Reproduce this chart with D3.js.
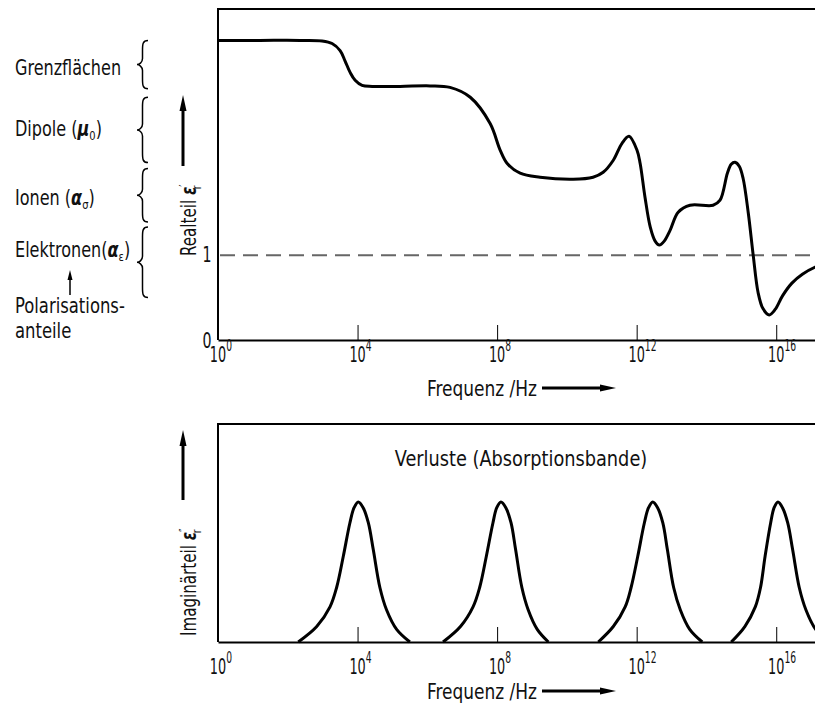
<!DOCTYPE html>
<html lang="de">
<head>
  <meta charset="UTF-8">
  <title>Dielektrische Funktion</title>
  <style>
    body { margin: 0; background: #fff; }
    svg { display: block; font-family: "DejaVu Sans Condensed", "DejaVu Sans", sans-serif; }
    .frame { stroke: #000; stroke-width: 2px; fill: none; }
    .curve { fill: none; stroke: #000; stroke-width: 3px; stroke-linejoin: round; }
    .lbl { font-size: 21px; fill: #111; }
    .brace { fill: none; stroke: #000; stroke-width: 1.5px; }
  </style>
</head>
<body>
  <svg id="chart" width="815" height="704"></svg>
  <script src="https://cdn.jsdelivr.net/npm/d3@7"></script>
  <script>
    // x ticks: exponents of 10 (Hz)
    const tickExponents = [0, 4, 8, 12, 16];

    const realPart = [
      [0, 3.53], [1.2, 3.53], [2.35, 3.53], [2.98, 3.524], [3.27, 3.494], [3.5, 3.41],
      [3.64, 3.29], [3.79, 3.15], [3.93, 3.06], [4.13, 3.0], [4.42, 2.988], [5.22, 2.988],
      [6.08, 2.994], [6.65, 2.976], [7.23, 2.86], [7.8, 2.55], [8.09, 2.235], [8.29, 2.08],
      [8.66, 1.965], [9.23, 1.918], [10.18, 1.894], [10.75, 1.918], [11.04, 1.976],
      [11.33, 2.118], [11.58, 2.318], [11.78, 2.4], [12.01, 2.235], [12.1, 2.08],
      [12.24, 1.68], [12.39, 1.33], [12.53, 1.165], [12.65, 1.118], [12.79, 1.165],
      [12.96, 1.294], [13.19, 1.506], [13.53, 1.588], [14.19, 1.588], [14.39, 1.647],
      [14.6, 1.965], [14.71, 2.071], [14.82, 2.094], [14.94, 2.047], [15.05, 1.906],
      [15.2, 1.494], [15.34, 1.0], [15.48, 0.56], [15.62, 0.37], [15.8, 0.296],
      [15.97, 0.36], [16.18, 0.52], [16.45, 0.67], [16.75, 0.775], [17.12, 0.859], [17.7, 0.94]
    ];

    // imaginary part eps''_r, one absorption band per mechanism
    const peakNear4 = [
      [2.3, 0], [2.83, 0.071], [3.21, 0.161], [3.4, 0.25], [3.59, 0.392], [3.78, 0.546],
      [3.9, 0.616], [4.02, 0.642], [4.16, 0.616], [4.31, 0.546], [4.45, 0.424],
      [4.64, 0.25], [4.83, 0.148], [5.12, 0.058], [5.5, 0]
    ];
    const peakNear8 = [
      [6.45, 0], [6.95, 0.071], [7.31, 0.161], [7.5, 0.25], [7.69, 0.392], [7.88, 0.546],
      [7.99, 0.616], [8.11, 0.642], [8.25, 0.616], [8.4, 0.546], [8.53, 0.424],
      [8.71, 0.25], [8.89, 0.148], [9.15, 0.058], [9.47, 0]
    ];
    const peakNear12 = [
      [10.9, 0], [11.33, 0.071], [11.67, 0.161], [11.84, 0.25], [12.03, 0.392], [12.22, 0.546],
      [12.34, 0.616], [12.46, 0.642], [12.6, 0.616], [12.75, 0.546], [12.88, 0.424],
      [13.06, 0.25], [13.25, 0.148], [13.52, 0.058], [13.88, 0]
    ];
    const peakNear16 = [
      [14.71, 0], [15.1, 0.071], [15.4, 0.161], [15.55, 0.25], [15.68, 0.392], [15.84, 0.546],
      [15.94, 0.616], [16.05, 0.642], [16.18, 0.616], [16.33, 0.546], [16.47, 0.424],
      [16.66, 0.25], [16.85, 0.148], [17.13, 0.058], [17.5, 0]
    ];

    // polarisation contributions: label and eps' range covered by its brace
    const anteile = ["Grenzflächen", "Dipole", "Ionen", "Elektronen"];
    const anteilBereiche = [[3.53, 2.96], [2.86, 2.09], [2.02, 1.39], [1.33, 0.5]];

    const svg = d3.select("#chart");
    const left = 218, right = 846;

    const x = d3.scaleLog().domain([1, 1e18]).range([left, right]);
    const yTop = d3.scaleLinear().domain([0, 3.9]).range([340, 9]);
    const yBot = d3.scaleLinear().domain([0, 1]).range([642, 424]);

    const lineTop = d3.line()
      .x(d => x(Math.pow(10, d[0])))
      .y(d => yTop(d[1]))
      .curve(d3.curveCatmullRom.alpha(0.5));
    const lineBot = d3.line()
      .x(d => x(Math.pow(10, d[0])))
      .y(d => yBot(d[1]))
      .curve(d3.curveCatmullRom.alpha(0.5));

    // narrow lettering: squeeze DejaVu horizontally
    function label(parent, px, py, sx, rot) {
      const g = parent.append("g")
        .attr("transform", `translate(${px},${py})${rot ? ` rotate(${rot})` : ""} scale(${sx},1)`);
      return g.append("text").attr("class", "lbl");
    }

    // straight arrow with a slim filled head
    function arrow(x1, y1, x2, y2, w, headLen, headW) {
      const len = Math.hypot(x2 - x1, y2 - y1);
      const g = svg.append("g")
        .attr("transform", `translate(${x1},${y1}) rotate(${Math.atan2(y2 - y1, x2 - x1) * 180 / Math.PI})`);
      g.append("line").attr("x1", 0).attr("x2", len - headLen + 1).attr("y1", 0).attr("y2", 0)
        .attr("stroke", "#000").attr("stroke-width", w);
      g.append("path")
        .attr("d", `M${len},0L${len - headLen},${-headW / 2}L${len - headLen},${headW / 2}Z`)
        .attr("fill", "#000");
    }

    function panel(y, yTopPx, labelBaseline) {
      const g = svg.append("g");
      g.append("g")
        .attr("transform", `translate(0,${y.range()[0]})`)
        .call(d3.axisBottom(x)
          .tickValues(tickExponents.slice(1).map(e => Math.pow(10, e)))
          .tickSize(-15).tickSizeOuter(0).tickFormat(""))
        .call(a => a.select(".domain").attr("stroke-width", 2))
        .call(a => a.selectAll(".tick line").attr("stroke-width", 1));
      g.append("path").attr("class", "frame")
        .attr("d", `M${left},${y.range()[0]}V${yTopPx}H${right}`);
      tickExponents.forEach(e => {
        const t = label(g, x(Math.pow(10, e)), labelBaseline, 0.68).attr("x", -12);
        t.append("tspan").text("10");
        t.append("tspan").attr("dy", -11).attr("font-size", 15).text(e);
      });
      return g;
    }

    // ---- upper panel: real part
    const gTop = panel(yTop, 9, 362);
    gTop.append("line")
      .attr("x1", left + 2).attr("x2", right)
      .attr("y1", yTop(1)).attr("y2", yTop(1))
      .attr("stroke", "#666").attr("stroke-width", 2)
      .attr("stroke-dasharray", "15,8");
    gTop.append("path").datum(realPart).attr("class", "curve").attr("d", lineTop);
    [0, 1].forEach(v => {
      label(gTop, 207, yTop(v) + (v === 0 ? 8 : 7), 0.75)
        .attr("text-anchor", "middle").text(v);
    });

    // ---- lower panel: imaginary part
    const gBot = panel(yBot, 424, 674);
    [peakNear4, peakNear8, peakNear12, peakNear16].forEach(p => {
      gBot.append("path").datum(p).attr("class", "curve").attr("d", lineBot);
    });
    label(gBot, 521, 466, 0.94).attr("text-anchor", "middle")
      .text("Verluste (Absorptionsbande)");

    // ---- axis titles
    function freqLabel(yBase) {
      label(svg, 427, yBase, 0.9).text("Frequenz /Hz");
      arrow(542, yBase - 8, 616, yBase - 8, 3, 16, 7);
    }
    freqLabel(396);
    freqLabel(699);

    function yTitle(yStart, word, primes, arrowFrom, arrowTo) {
      const t = label(svg, 196, yStart, 0.8, -90);
      t.append("tspan").text(word + " ");
      t.append("tspan").attr("font-style", "italic").attr("font-weight", "bold").text("ε");
      t.append("tspan").attr("font-size", 13).attr("dy", -8).text(primes);
      t.append("tspan").attr("font-size", 13).attr("dx", -6).attr("dy", 13).text("r");
      arrow(183, arrowFrom, 183, arrowTo, 3, 16, 7);
    }
    yTitle(256, "Realteil", "′", 166, 95);
    yTitle(636, "Imaginärteil", "″", 500, 430);

    // ---- left annotations: polarisation contributions with braces
    const bx = 137, bw = 11;
    anteilBereiche.forEach(r => {
      const y0 = yTop(r[0]), y1 = yTop(r[1]), ym = (y0 + y1) / 2;
      const c = bw / 2;
      svg.append("path").attr("class", "brace")
        .attr("d", `M${bx + bw},${y0} C${bx + c},${y0} ${bx + c},${y0 + 4} ${bx + c},${y0 + 10}
                    V${ym - 6} C${bx + c},${ym - 2} ${bx + 2},${ym} ${bx},${ym}
                    C${bx + 2},${ym} ${bx + c},${ym + 2} ${bx + c},${ym + 6}
                    V${y1 - 10} C${bx + c},${y1 - 4} ${bx + c},${y1} ${bx + bw},${y1}`);
    });

    const labelBaselines = [75, 136, 205, 257];
    const subs = [null, ["μ", "0"], ["α", "σ"], ["α", "ε"]];
    anteile.forEach((name, i) => {
      const t = label(svg, 15, labelBaselines[i], 0.85);
      t.append("tspan").text(name + (subs[i] ? (i === 3 ? "(" : " (") : ""));
      if (subs[i]) {
        t.append("tspan").attr("font-style", "italic").attr("font-weight", "bold").text(subs[i][0]);
        t.append("tspan").attr("font-size", 13).attr("dy", 4).text(subs[i][1]);
        t.append("tspan").attr("dy", -4).text(")");
      }
    });
    arrow(70, 295, 70, 270, 1.5, 10, 5);
    label(svg, 15, 313, 0.87).text("Polarisations-");
    label(svg, 15, 338, 0.87).text("anteile");
  </script>
</body>
</html>
